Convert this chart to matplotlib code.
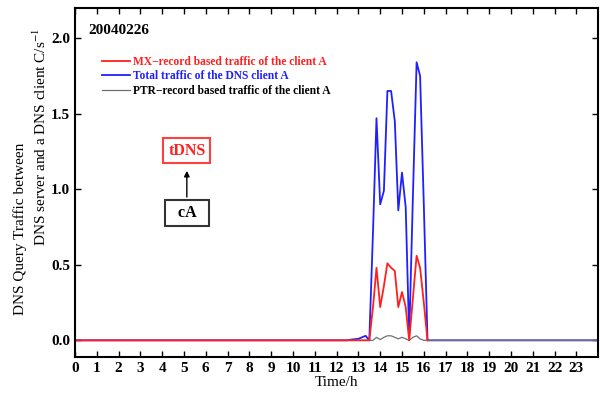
import matplotlib
matplotlib.use("Agg")
import matplotlib.pyplot as plt

# data (hours, C/s)
t_total = [0, 12.5, 12.67, 13.0, 13.33, 13.5, 13.67, 13.83, 14.0, 14.17, 14.33, 14.5, 14.67,
           14.83, 15.0, 15.17, 15.33, 15.5, 15.67, 15.83, 16.0, 16.17, 24]
total = [0, 0, 0.005, 0.01, 0.03, 0.0, 0.72, 1.47, 0.9, 0.99, 1.65, 1.65, 1.45,
         0.86, 1.11, 0.88, 0.02, 0.95, 1.84, 1.75, 0.9, 0.0, 0]

t_mx = [0, 13.5, 13.67, 13.83, 14.0, 14.17, 14.33, 14.5, 14.67, 14.83, 15.0, 15.17, 15.33,
        15.5, 15.67, 15.83, 16.0, 16.17]
mx = [0, 0, 0.22, 0.48, 0.22, 0.36, 0.51, 0.48, 0.46, 0.22, 0.32, 0.22, 0.0,
      0.28, 0.56, 0.48, 0.25, 0.0]

t_ptr = [0, 13.5, 13.67, 13.83, 14.0, 14.17, 14.33, 14.5, 14.67, 14.83, 15.0, 15.17, 15.33,
         15.5, 15.67, 15.83, 16.0, 16.17, 24]
ptr = [0, 0, 0.0, 0.02, 0.005, 0.02, 0.03, 0.03, 0.02, 0.01, 0.02, 0.01, 0.0,
       0.02, 0.03, 0.01, 0.0, 0.0, 0]

hours = list(range(0, 24))
y_ticks = [0.0, 0.5, 1.0, 1.5, 2.0]

plt.rcParams['font.family'] = ['Liberation Serif', 'DejaVu Serif']
plt.rcParams['mathtext.fontset'] = 'stix'

fig = plt.figure(figsize=(6, 3.94), dpi=100)
ax = fig.add_axes([0.125, 0.094, 0.872, 0.886])

ax.plot(t_total, total, color='#2020ff', lw=1.3, label='Total traffic of the DNS client A')
ax.plot(t_ptr, ptr, color='#707070', lw=0.9, label='PTR\u2212record based traffic of the client A')
ax.plot(t_mx, mx, color='#ff2020', lw=1.3, label='MX\u2212record based traffic of the client A')

ax.set_xlim(0, 24)
ax.set_ylim(-0.11, 2.2)
ax.set_xticks(hours)
ax.set_yticks(y_ticks)
ax.set_yticklabels(['%.1f' % v for v in y_ticks])
ax.tick_params(direction='in', top=True, right=True, length=4, width=1, labelsize=11)
for lab in ax.get_xticklabels() + ax.get_yticklabels():
    lab.set_fontweight('bold')
for s in ax.spines.values():
    s.set_linewidth(1.5)

ax.set_xlabel('Time/h', fontsize=11, labelpad=1)

# two-line y label, each line placed on its own like the original
fig.text(0.034, 0.419, 'DNS Query Traffic between', rotation=90, fontsize=11,
         ha='center', va='center')
fig.text(0.068, 0.652, 'DNS server and a DNS client C/s$^{-1}$', rotation=90, fontsize=11,
         ha='center', va='center')

ax.text(0.025, 0.955, '20040226', transform=ax.transAxes, fontsize=11, fontweight='bold',
        va='top', ha='left')

handles, labels = ax.get_legend_handles_labels()
order = [2, 0, 1]
leg = ax.legend([handles[i] for i in order], [labels[i] for i in order], loc='upper left',
                bbox_to_anchor=(0.032, 0.893), frameon=False, handlelength=2.4,
                handletextpad=0.25, labelspacing=0.25, prop={'weight': 'bold', 'size': 8.3})
for txt, c in zip(leg.get_texts(), ['#ff2020', '#2020ff', 'black']):
    txt.set_color(c)

ax.text(5.13, 1.255, 'tDNS', color='#ff2020', fontsize=11.5, fontweight='bold', ha='center',
        va='center', bbox=dict(boxstyle='square,pad=0.3', fc='white', ec='#ff4040', lw=1.5))
ax.text(5.13, 0.844, '  cA  ', color='black', fontsize=11.5, fontweight='bold', ha='center',
        va='center', bbox=dict(boxstyle='square,pad=0.3', fc='white', ec='#333333', lw=1.5))
ax.annotate('', xy=(5.13, 1.14), xytext=(5.13, 0.93),
            arrowprops=dict(arrowstyle='-|>', color='black', lw=1.0, mutation_scale=8))

fig.savefig('out.png', dpi=100)
